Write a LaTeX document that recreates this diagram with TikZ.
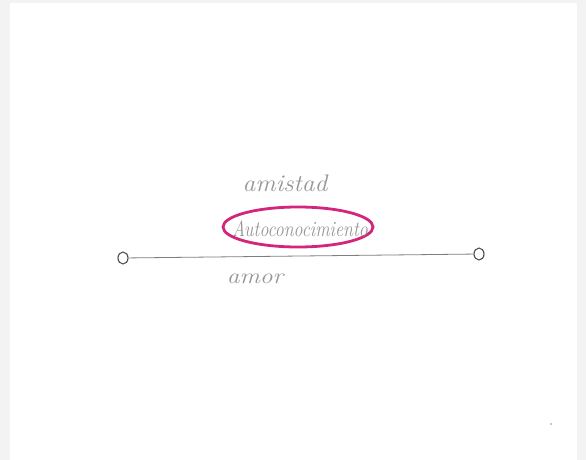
\documentclass[tikz,border=0pt]{standalone}
\usepackage{fontspec}
\usetikzlibrary{shapes.geometric}
\definecolor{bggray}{HTML}{F3F3F3}
\definecolor{inkgray}{HTML}{959595}
\definecolor{linegray}{HTML}{7E7E7E}
\definecolor{circgray}{HTML}{4A4A4A}
\definecolor{pinkmark}{HTML}{D4257C}
\tikzset{
  endpt/.style={ellipse, draw=circgray, line width=1.1pt, minimum width=10pt, minimum height=12pt, inner sep=0pt},
  seg/.style={draw=linegray, line width=0.8pt},
  hand/.style={text=inkgray, font=\itshape\fontsize{15}{15}\selectfont, inner sep=0pt},
  oval/.style={ellipse, draw=pinkmark, line width=2.8pt, minimum width=150pt, minimum height=40pt, inner sep=0pt}
}
\begin{document}
\begin{tikzpicture}[x=1pt,y=-1pt]
\useasboundingbox (0,0) rectangle (586,460);
\fill[bggray] (0,0) rectangle (586,460);
\fill[white] (10,3) rectangle (577,460);
\node[endpt] (L) at (123,258) {};
\node[endpt] (R) at (479,254) {};
\draw[seg] (L) -- (R);
\node[hand] (amistad) at (285,183) {\scalebox{1.7}[1.6]{amistad}};
\node[oval] (ring) at (298,227) {};
\node[hand] (auto) at (300,229) {\scalebox{1.2}[1.45]{Autoconocimiento}};
\node[hand] (amor) at (255,279) {\scalebox{1.7}[1.45]{amor}};
\fill[inkgray] (551,424) circle (0.9pt);
\end{tikzpicture}
\end{document}
